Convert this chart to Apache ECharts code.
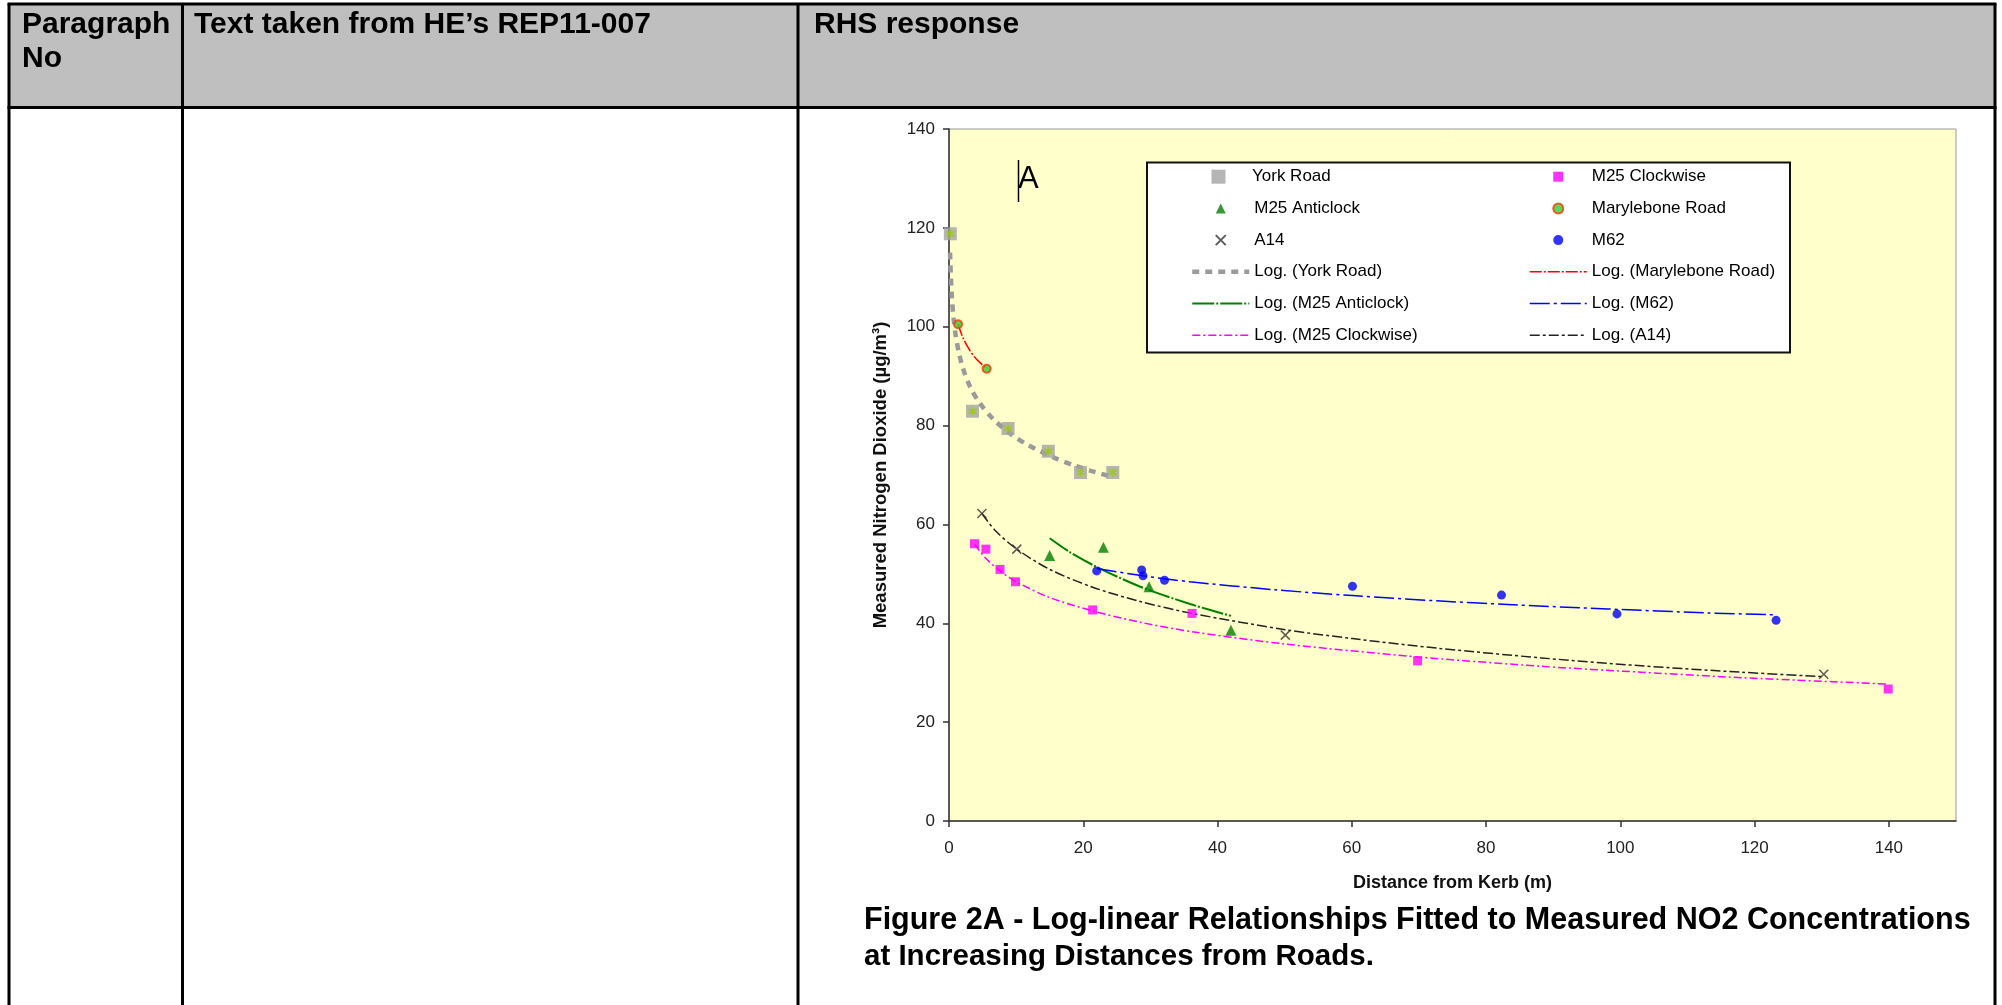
<!DOCTYPE html>
<html lang="en">
<head>
<meta charset="UTF-8">
<title>Figure 2A - NO2 against distance from kerb</title>
<style>
    html, body { margin: 0; padding: 0; background: #fff; }
    #main { width: 2002px; height: 1005px; }
</style>
</head>
<body>
<div id="main"></div>
<script src="https://cdn.jsdelivr.net/npm/echarts@6/dist/echarts.min.js"></script>
<script>
    // measured points: [distance from kerb (m), NO2 (ug/m3)]
    var yorkRoad = [[0.2, 118.8], [3.5, 82.9], [8.8, 79.4], [14.8, 74.8], [19.6, 70.5], [24.4, 70.5]];
    var m25Anticlock = [[15.0, 53.7], [23.0, 55.4], [29.8, 47.4], [42.0, 38.6]];
    var a14 = [[4.9, 62.2], [10.1, 55.0], [50.1, 37.6], [130.3, 29.7]];
    var m25Clockwise = [[3.8, 56.1], [5.5, 55.0], [7.6, 50.9], [9.9, 48.4], [21.4, 42.7], [36.2, 42.0], [69.8, 32.4], [139.9, 26.7]];
    var marylebone = [[1.35, 100.5], [5.6, 91.5]];
    var m62 = [[22.0, 50.6], [28.7, 50.8], [28.9, 49.6], [32.1, 48.7], [60.1, 47.5], [82.3, 45.7], [99.5, 41.9], [123.2, 40.6]];

    // log trendlines
    var logYork = [[0.15, 115.0], [0.4, 106.6], [0.7, 101.5], [1, 98.2], [1.5, 94.6], [2.1, 91.5], [3.2, 87.7], [4.6, 84.5],
        [6.6, 81.3], [9, 78.5], [11.6, 76.2], [15.5, 73.6], [18.5, 72.0], [21, 70.9], [24.4, 69.6]];
    var logMarylebone = [[1.35, 100.5], [2.1, 97.7], [3.1, 95.2], [4.1, 93.4], [5.6, 91.5]];
    var logM25Anticlock = [[15, 57.2], [18, 54.4], [22, 51.4], [28.5, 47.4], [35.9, 43.9], [42, 41.5]];
    var logM25Clockwise = [[3.8, 56.0], [5.5, 53.1], [7.6, 50.6], [10, 48.4], [15, 45.2], [21.4, 42.5], [28.5, 40.2],
        [36.2, 38.3], [50.1, 35.8], [69.8, 33.2], [88.2, 31.3], [103.1, 30.1], [118, 29.0], [139.9, 27.7]];
    var logA14 = [[4.9, 62.2], [7, 58.6], [10.1, 55.0], [15, 50.9], [21.4, 47.3], [28.5, 44.4], [36.2, 42.0], [50.1, 38.7],
        [60.1, 36.9], [73.2, 34.9], [88.2, 33.0], [103.1, 31.4], [118, 30.1], [130.3, 29.2]];
    var logM62 = [[22, 51.1], [28.9, 49.6], [35.9, 48.4], [48.4, 46.8], [60.1, 45.6], [73.2, 44.5], [83.2, 43.8],
        [98.1, 42.9], [113, 42.1], [123.2, 41.7]];

    var xTicks = [0, 20, 40, 60, 80, 100, 120, 140];
    var legendLeft = ['M25 Anticlock', 'A14', 'Log. (York Road)', 'Log. (M25 Anticlock)', 'Log. (M25 Clockwise)'];
    var legendRight = ['M25 Clockwise', 'Marylebone Road', 'M62', 'Log. (Marylebone Road)', 'Log. (M62)', 'Log. (A14)'];

    var FONT = '"Liberation Sans", Arial, sans-serif';
    var SQUARE = 'path://M0,0H10V10H0Z';
    var TRIANGLE = 'path://M5,0L10,10L0,10Z';
    var CROSS = 'path://M0,0L10,10M10,0L0,10';
    var ROW = 31.7;
    var chart = echarts.init(document.getElementById('main'));

    function trend(name, data, color, width, dash) {
        return {
            name: name, type: 'line', data: data, symbol: 'none', smooth: 0.3,
            z: 2, silent: true,
            lineStyle: { color: color, width: width, type: dash, cap: 'butt' },
            itemStyle: { color: color }
        };
    }

    function legendCol(left, top, names, iconSize) {
        return {
            // trend entries: hide the marker dot ECharts puts on line icons
            data: names.map(function (n) {
                return n.indexOf('Log.') === 0 ? { name: n, itemStyle: { opacity: 0 } } : { name: n };
            }),
            orient: 'vertical', left: left, top: top, padding: 0,
            itemWidth: 57, itemHeight: iconSize, itemGap: ROW - 18, selectedMode: false, z: 20,
            symbolKeepAspect: true,
            lineStyle: { width: 'inherit' },
            textStyle: { fontFamily: FONT, fontSize: 17, lineHeight: 18, color: '#000' }
        };
    }

    // table frame, headers, caption (document around the chart)
    var black = { stroke: '#000', lineWidth: 3 };
    var bold30 = 'bold 30px ' + FONT;
    var graphics = [
        { type: 'rect', shape: { x: 9, y: 4, width: 1986, height: 103.5 }, style: { fill: '#bfbfbf' }, z: 1 },
        { type: 'line', shape: { x1: 7.5, y1: 4, x2: 1996.5, y2: 4 }, style: black, z: 2 },
        { type: 'line', shape: { x1: 7.5, y1: 107.5, x2: 1996.5, y2: 107.5 }, style: black, z: 2 },
        { type: 'line', shape: { x1: 9, y1: 4, x2: 9, y2: 1005 }, style: black, z: 2 },
        { type: 'line', shape: { x1: 182.5, y1: 4, x2: 182.5, y2: 1005 }, style: black, z: 2 },
        { type: 'line', shape: { x1: 798, y1: 4, x2: 798, y2: 1005 }, style: black, z: 2 },
        { type: 'line', shape: { x1: 1995, y1: 4, x2: 1995, y2: 1005 }, style: black, z: 2 },
        { type: 'text', x: 22, y: 25, z: 3, style: { text: 'Paragraph', font: bold30, fill: '#000', verticalAlign: 'middle' } },
        { type: 'text', x: 22, y: 59, z: 3, style: { text: 'No', font: bold30, fill: '#000', verticalAlign: 'middle' } },
        { type: 'text', x: 194, y: 25, z: 3, style: { text: 'Text taken from HE\u2019s REP11-007', font: bold30, fill: '#000', verticalAlign: 'middle' } },
        { type: 'text', x: 814, y: 25, z: 3, style: { text: 'RHS response', font: bold30, fill: '#000', verticalAlign: 'middle' } },
        { type: 'text', x: 864, y: 921, z: 3, style: { text: 'Figure 2A - Log-linear Relationships Fitted to Measured NO2 Concentrations', font: 'bold 30.5px ' + FONT, fill: '#000', verticalAlign: 'middle' } },
        { type: 'text', x: 864, y: 957, z: 3, style: { text: 'at Increasing Distances from Roads.', font: 'bold 29.5px ' + FONT, fill: '#000', verticalAlign: 'middle' } },
        // legend frame
        { type: 'rect', shape: { x: 1147, y: 162.5, width: 643, height: 190 }, style: { fill: '#fff', stroke: '#111', lineWidth: 2 }, z: 10 },
        // "A" panel marker with the stray cursor bar
        { type: 'text', x: 1018, y: 179, z: 10, style: { text: 'A', font: '31px ' + FONT, fill: '#000', verticalAlign: 'middle' } },
        { type: 'line', shape: { x1: 1018.5, y1: 160, x2: 1018.5, y2: 202 }, style: { stroke: '#000', lineWidth: 1.5 }, z: 10 }
    ];

    var option = {
        animation: false,
        backgroundColor: '#fff',
        textStyle: { fontFamily: FONT },
        grid: {
            left: 949, top: 129, width: 1007, height: 692,
            show: true, backgroundColor: '#ffffcc', borderColor: '#9a9a9a', borderWidth: 1,
            outerBoundsMode: 'none'
        },
        legend: [
            // single-item legend: its box starts at the icon, so shift by (57 - 14) / 2
            legendCol(1190 + 21.5, 167.7, ['York Road'], 14),
            legendCol(1190, 167.7 + ROW, legendLeft, 10),
            legendCol(1529, 167.7, legendRight, 10)
        ],
        xAxis: {
            type: 'value', min: 0, max: 150, interval: 20,
            name: 'Distance from Kerb (m)', nameLocation: 'middle', nameGap: 53,
            nameTextStyle: { fontFamily: FONT, fontSize: 18, fontWeight: 'bold', color: '#111' },
            axisLine: { lineStyle: { color: '#333', width: 1.5 } },
            axisTick: { length: 6, customValues: xTicks, lineStyle: { color: '#333', width: 1.5 } },
            axisLabel: {
                customValues: xTicks, margin: 19, fontSize: 17, color: '#222',
                formatter: function (v) { return v > 140 ? '' : v; }
            },
            splitLine: { show: false }
        },
        yAxis: {
            type: 'value', min: 0, max: 140, interval: 20,
            name: 'Measured Nitrogen Dioxide (\u00b5g/m\u00b3)', nameLocation: 'middle', nameRotate: 90, nameGap: 59,
            nameTextStyle: { fontFamily: FONT, fontSize: 18.5, fontWeight: 'bold', color: '#111' },
            axisLine: { show: true, lineStyle: { color: '#333', width: 1.5 } },
            axisTick: { show: true, length: 6, lineStyle: { color: '#333', width: 1.5 } },
            axisLabel: { margin: 14, fontSize: 17, color: '#222' },
            splitLine: { show: false }
        },
        graphic: { elements: graphics },
        series: [
            trend('Log. (York Road)', logYork, '#9a9a9a', 4.5, [7, 6]),
            trend('Log. (Marylebone Road)', logMarylebone, '#ff0000', 1.5, [12, 2, 2, 2]),
            trend('Log. (M25 Anticlock)', logM25Anticlock, '#008000', 2, [22, 2, 2, 2]),
            trend('Log. (M25 Clockwise)', logM25Clockwise, '#ff00ff', 1.5, [8, 3, 2, 3]),
            trend('Log. (M62)', logM62, '#0000ff', 1.5, [20, 4, 3, 4]),
            trend('Log. (A14)', logA14, '#222', 1.5, [10, 3, 3, 3]),
            {
                name: 'York Road', type: 'scatter', data: yorkRoad, symbol: SQUARE, symbolSize: 13, z: 3,
                itemStyle: { color: '#a3a3a3' }
            },
            {
                // green asterisk drawn inside the grey York Road squares
                name: 'York Road', type: 'scatter', data: yorkRoad, symbolSize: 8, z: 4, silent: true,
                symbol: 'path://M5,0L5,10M0,2L10,8M10,2L0,8',
                itemStyle: { color: 'none', borderColor: '#99cc00', borderWidth: 1.5 }
            },
            {
                name: 'M25 Anticlock', type: 'scatter', data: m25Anticlock, symbol: TRIANGLE, symbolSize: 11, z: 3,
                itemStyle: { color: '#008000' }
            },
            {
                name: 'A14', type: 'scatter', data: a14, symbol: CROSS, symbolSize: 9, z: 3,
                itemStyle: { color: 'none', borderColor: '#333', borderWidth: 1.5 }
            },
            {
                name: 'M25 Clockwise', type: 'scatter', data: m25Clockwise, symbol: SQUARE, symbolSize: 9, z: 3,
                itemStyle: { color: '#ff00ff' }
            },
            {
                name: 'Marylebone Road', type: 'scatter', data: marylebone, symbol: 'circle', symbolSize: 8, z: 3,
                itemStyle: { color: '#33cc33', borderColor: '#ff3300', borderWidth: 2 }
            },
            {
                name: 'M62', type: 'scatter', data: m62, symbol: 'circle', symbolSize: 9, z: 3,
                itemStyle: { color: '#0000ff' }
            }
        ]
    };

    chart.setOption(option);
</script>
</body>
</html>
